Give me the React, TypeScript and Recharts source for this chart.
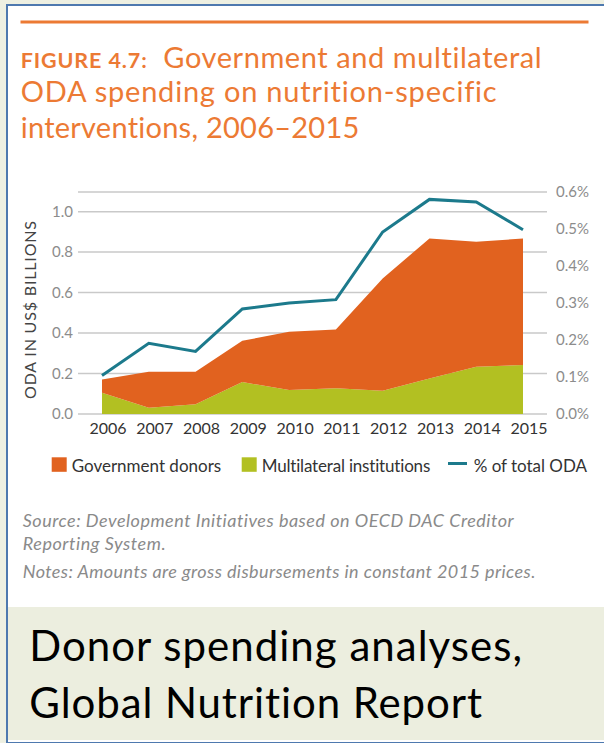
import React from 'react';
import { ComposedChart, Area, Line, XAxis, YAxis, CartesianGrid } from 'recharts';

const years = ['2006', '2007', '2008', '2009', '2010', '2011', '2012', '2013', '2014', '2015'];
const multilateral = [0.105, 0.031, 0.048, 0.158, 0.118, 0.127, 0.115, 0.176, 0.234, 0.242];
const government = [0.066, 0.178, 0.161, 0.204, 0.288, 0.291, 0.555, 0.691, 0.617, 0.625];
const pctOfTotal = [0.104, 0.191, 0.169, 0.284, 0.3, 0.309, 0.492, 0.58, 0.573, 0.498];

const leftTicks = [0, 0.2, 0.4, 0.6, 0.8, 1.0];
const rightTicks = [0, 0.1, 0.2, 0.3, 0.4, 0.5, 0.6];

const seriesNames = ['Government donors', 'Multilateral institutions', '% of total ODA'];
const figureLabel = 'FIGURE 4.7:';
const titleLines = ['Government and multilateral', 'ODA spending on nutrition-specific', 'interventions, 2006\u20132015'];
const noteLines = [
  'Source: Development Initiatives based on OECD DAC Creditor',
  'Reporting System.',
  'Notes: Amounts are gross disbursements in constant 2015 prices.',
];
const captionLines = ['Donor spending analyses,', 'Global Nutrition Report'];

const ORANGE = '#E1621F';
const GREEN = '#B2C022';
const TEAL = '#1C7A8C';
const TITLE = '#EC7A34';
const BLUE = '#4E79AF';
const FONT = 'Lato, "Open Sans", sans-serif';
const NOLIG: React.CSSProperties = { fontVariantLigatures: 'none', fontFeatureSettings: '"liga" 0, "clig" 0' };

const data = years.map((y, i) => ({
  year: y,
  multilateral: multilateral[i],
  government: government[i],
  pct: pctOfTotal[i],
}));

const XTick = (props: any) => {
  const { x, y, payload } = props;
  return (
    <text x={x + 6} y={y + 11.5} textAnchor="middle" fill="#333" fontSize={16} fontFamily={FONT}>
      {payload.value}
    </text>
  );
};

const YLabel = (props: any) => {
  const vb = props.viewBox || { x: 0, y: 0, width: 0, height: 0 };
  const cx = vb.x + 29.5;
  const cy = vb.y + vb.height / 2 + 7;
  return (
    <text
      x={cx}
      y={cy}
      transform={`rotate(-90 ${cx} ${cy})`}
      textAnchor="middle"
      dominantBaseline="central"
      fill="#444"
      fontSize={16}
      fontFamily={FONT}
      textLength={178}
      lengthAdjust="spacing"
    >
      ODA IN US$ BILLIONS
    </text>
  );
};

export default function App() {
  return (
    <div style={{ position: 'absolute', left: 0, top: 0, width: 604, height: 743, background: '#EEF0E2', overflow: 'hidden' }}>
      <div
        style={{
          position: 'absolute',
          left: 6,
          top: 4,
          width: 598,
          height: 736,
          background: '#fff',
          borderLeft: `2px solid ${BLUE}`,
          borderTop: `2px solid ${BLUE}`,
          borderBottom: `2px solid ${BLUE}`,
        }}
      />
      <div style={{ position: 'absolute', left: 8, top: 607, width: 596, height: 133, background: '#ECEEDF' }} />
      <svg width={604} height={743} style={{ position: 'absolute', left: 0, top: 0, ...NOLIG }}>
        <rect x={20.5} y={20.5} width={568} height={3} fill={TITLE} />
        <text x={20.7} y={68} fill={TITLE} fontFamily={FONT} fontSize={21.5} fontWeight={700} textLength={126} lengthAdjust="spacing">
          {figureLabel}
        </text>
        <text x={163.3} y={68} fill={TITLE} fontFamily={FONT} fontSize={29} textLength={378.4} lengthAdjust="spacing">
          {titleLines[0]}
        </text>
        <text x={20.7} y={102} fill={TITLE} fontFamily={FONT} fontSize={29} textLength={476} lengthAdjust="spacing">
          {titleLines[1]}
        </text>
        <text x={20.7} y={137.5} fill={TITLE} fontFamily={FONT} fontSize={29} textLength={338.6} lengthAdjust="spacing">
          {titleLines[2]}
        </text>

        <rect x={51.7} y={457.3} width={15} height={14.5} fill={ORANGE} />
        <text x={71.7} y={471.5} fill="#333" fontFamily={FONT} fontSize={17}>{seriesNames[0]}</text>
        <rect x={241.7} y={457.3} width={15} height={14.5} fill={GREEN} />
        <text x={261.7} y={471.5} fill="#333" fontFamily={FONT} fontSize={17} textLength={168.6} lengthAdjust="spacing">
          {seriesNames[1]}
        </text>
        <rect x={448} y={462} width={19} height={3} fill={TEAL} />
        <text x={473.7} y={471.5} fill="#333" fontFamily={FONT} fontSize={17} textLength={113.3} lengthAdjust="spacing">
          {seriesNames[2]}
        </text>

        <text x={22.7} y={527.3} fill="#8a8a8a" fontFamily={FONT} fontStyle="italic" fontSize={18} textLength={491} lengthAdjust="spacing">
          {noteLines[0]}
        </text>
        <text x={22.7} y={550} fill="#8a8a8a" fontFamily={FONT} fontStyle="italic" fontSize={18} textLength={143} lengthAdjust="spacing">
          {noteLines[1]}
        </text>
        <text x={22.7} y={578.3} fill="#8a8a8a" fontFamily={FONT} fontStyle="italic" fontSize={18} textLength={512.7} lengthAdjust="spacing">
          {noteLines[2]}
        </text>

        <text x={29.3} y={661} fill="#000" fontFamily={FONT} fontSize={42} textLength={492.7} lengthAdjust="spacing">
          {captionLines[0]}
        </text>
        <text x={29.3} y={718.3} fill="#000" fontFamily={FONT} fontSize={42} textLength={452.7} lengthAdjust="spacing">
          {captionLines[1]}
        </text>
      </svg>
      <div style={{ position: 'absolute', left: 0, top: 160 }}>
        <ComposedChart width={604} height={290} data={data} margin={{ top: 32, right: 0, bottom: 6, left: 0 }}>
          <CartesianGrid yAxisId="left" vertical={false} stroke="#c9c9c9" strokeWidth={1.5} />
          <XAxis
            dataKey="year"
            padding={{ left: 24, right: 24 }}
            axisLine={false}
            tickLine={false}
            tickSize={0}
            tickMargin={8}
            height={30}
            interval={0}
            tick={<XTick />}
          />
          <YAxis
            yAxisId="left"
            domain={[0, 1.097]}
            ticks={leftTicks}
            tickFormatter={(v: number) => v.toFixed(1)}
            axisLine={false}
            tickLine={false}
            tickSize={0}
            tickMargin={5}
            width={78}
            tick={{ fill: '#8c8c8c', fontSize: 15, fontFamily: FONT }}
            label={YLabel}
          />
          <YAxis
            yAxisId="right"
            orientation="right"
            domain={[0, 0.6]}
            ticks={rightTicks}
            tickFormatter={(v: number) => v.toFixed(1) + '%'}
            axisLine={false}
            tickLine={false}
            tickSize={0}
            tickMargin={9}
            width={57}
            tick={{ fill: '#8c8c8c', fontSize: 15, fontFamily: FONT }}
          />
          <Area
            yAxisId="left"
            type="linear"
            dataKey="multilateral"
            name={seriesNames[1]}
            stackId="oda"
            fill={GREEN}
            fillOpacity={1}
            stroke="none"
            isAnimationActive={false}
          />
          <Area
            yAxisId="left"
            type="linear"
            dataKey="government"
            name={seriesNames[0]}
            stackId="oda"
            fill={ORANGE}
            fillOpacity={1}
            stroke="none"
            isAnimationActive={false}
          />
          <Line
            yAxisId="right"
            type="linear"
            dataKey="pct"
            name={seriesNames[2]}
            stroke={TEAL}
            strokeWidth={3}
            dot={false}
            activeDot={false}
            isAnimationActive={false}
          />
        </ComposedChart>
      </div>
    </div>
  );
}
